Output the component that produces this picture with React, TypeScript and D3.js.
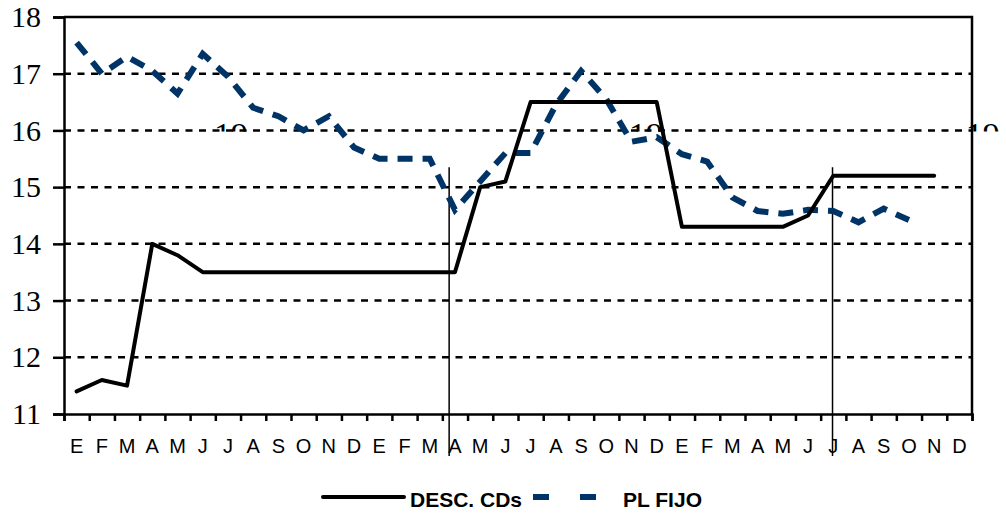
import React, { useEffect, useRef } from "react";
import { axisBottom, axisLeft, line, scaleLinear, select } from "d3";

const months = [
  "E", "F", "M", "A", "M", "J", "J", "A", "S", "O", "N", "D",
  "E", "F", "M", "A", "M", "J", "J", "A", "S", "O", "N", "D",
  "E", "F", "M", "A", "M", "J", "J", "A", "S", "O", "N", "D",
];

const descCDs = [
  11.4, 11.6, 11.5, 14.0, 13.8, 13.5, 13.5, 13.5, 13.5, 13.5, 13.5, 13.5,
  13.5, 13.5, 13.5, 13.5, 15.0, 15.1, 16.5, 16.5, 16.5, 16.5, 16.5, 16.5,
  14.3, 14.3, 14.3, 14.3, 14.3, 14.5, 15.2, 15.2, 15.2, 15.2, 15.2,
];

const plFijo = [
  17.55, 17.0, 17.3, 17.05, 16.65, 17.35, 16.95, 16.4, 16.25, 16.0, 16.25, 15.7,
  15.5, 15.5, 15.5, 14.6, 15.1, 15.6, 15.6, 16.45, 17.05, 16.55, 15.8, 15.88,
  15.58, 15.45, 14.82, 14.58, 14.53, 14.6, 14.58, 14.38, 14.62, 14.42,
];

const yTicks = [11, 12, 13, 14, 15, 16, 17, 18];
// vertical separators (month position) and the top value they start at
const separators = [15.27, 30.47];
const separatorTop = 15.35;
// partly hidden year labels (month position where text starts)
const yearLabels = ["19", "19", "19"];
const yearLabelPos = [5.95, 22.4, 35.75];

const width = 1006;
const height = 516;
const left = 64;
const right = 972;
const top = 17;
const bottom = 414;
const blue = "#003366";

export default function App() {
  const svgRef = useRef<SVGSVGElement | null>(null);

  useEffect(() => {
    const svg = select(svgRef.current);
    svg.selectAll("*").remove();

    const x = scaleLinear().domain([0, months.length]).range([left, right]);
    const y = scaleLinear().domain([11, 18]).range([bottom, top]);

    // year labels, only top part visible
    svg
      .append("clipPath")
      .attr("id", "yearclip")
      .append("rect")
      .attr("x", 0)
      .attr("y", 0)
      .attr("width", width)
      .attr("height", y(16) + 1);
    svg
      .append("g")
      .attr("clip-path", "url(#yearclip)")
      .selectAll("text")
      .data(yearLabels)
      .join("text")
      .attr("x", (_, i) => x(yearLabelPos[i]))
      .attr("y", 146)
      .attr("font-family", "'Liberation Serif', serif")
      .attr("font-size", 34)
      .attr("fill", "#000")
      .text((d) => d);

    // grid lines
    svg
      .append("g")
      .selectAll("line")
      .data(yTicks.filter((d) => d > 11 && d < 18))
      .join("line")
      .attr("x1", left)
      .attr("x2", right)
      .attr("y1", (d) => y(d))
      .attr("y2", (d) => y(d))
      .attr("stroke", "#000")
      .attr("stroke-width", 2.5)
      .attr("stroke-dasharray", "7,6.5");

    // frame top / right
    svg
      .append("path")
      .attr("d", `M${left},${top}H${right}V${bottom}`)
      .attr("fill", "none")
      .attr("stroke", "#000")
      .attr("stroke-width", 2.5);

    // y axis
    const yAxis = axisLeft(y)
      .tickValues(yTicks)
      .tickSize(11)
      .tickPadding(12)
      .tickFormat((d) => String(d));
    const gy = svg.append("g").attr("transform", `translate(${left},0)`).call(yAxis);
    gy.select(".domain").attr("stroke-width", 2.5);
    gy.selectAll(".tick line").attr("stroke-width", 2.5);
    gy.selectAll(".tick text")
      .attr("font-family", "'Liberation Serif', serif")
      .attr("font-size", 30)
      .attr("fill", "#000");

    // x axis
    const xAxis = axisBottom(x)
      .tickValues(months.map((_, i) => i).concat([months.length]))
      .tickSize(7)
      .tickFormat(() => "");
    const gx = svg.append("g").attr("transform", `translate(0,${bottom})`).call(xAxis);
    gx.select(".domain").attr("stroke-width", 2.5);
    gx.selectAll(".tick line").attr("stroke-width", 2.5);

    svg
      .append("g")
      .selectAll("text")
      .data(months)
      .join("text")
      .attr("x", (_, i) => x(i + 0.5))
      .attr("y", 453)
      .attr("text-anchor", "middle")
      .attr("font-family", "'Liberation Sans', Arial, sans-serif")
      .attr("font-size", 20)
      .attr("fill", "#000")
      .text((d) => d);

    // separators
    svg
      .append("g")
      .selectAll("line")
      .data(separators)
      .join("line")
      .attr("x1", (d) => x(d))
      .attr("x2", (d) => x(d))
      .attr("y1", y(separatorTop))
      .attr("y2", bottom + 42)
      .attr("stroke", "#000")
      .attr("stroke-width", 1.5);

    const lineGen = line<number>()
      .x((_, i) => x(i + 0.5))
      .y((d) => y(d));

    svg
      .append("path")
      .datum(plFijo)
      .attr("fill", "none")
      .attr("stroke", blue)
      .attr("stroke-width", 6)
      .attr("stroke-dasharray", "15,10")
      .attr("d", lineGen);

    svg
      .append("path")
      .datum(descCDs)
      .attr("fill", "none")
      .attr("stroke", "#000")
      .attr("stroke-width", 4)
      .attr("stroke-linejoin", "round")
      .attr("stroke-linecap", "round")
      .attr("d", lineGen);

    // legend
    const lg = svg.append("g");
    lg.append("line")
      .attr("x1", 323)
      .attr("x2", 404)
      .attr("y1", 497)
      .attr("y2", 497)
      .attr("stroke", "#000")
      .attr("stroke-width", 4)
      .attr("stroke-linecap", "round");
    lg.append("text")
      .attr("x", 410)
      .attr("y", 507)
      .attr("font-family", "'Liberation Sans', Arial, sans-serif")
      .attr("font-weight", "bold")
      .attr("font-size", 21)
      .text("DESC. CDs");
    lg.append("line")
      .attr("x1", 533)
      .attr("x2", 597)
      .attr("y1", 497)
      .attr("y2", 497)
      .attr("stroke", blue)
      .attr("stroke-width", 6)
      .attr("stroke-dasharray", "16,31");
    lg.append("text")
      .attr("x", 623)
      .attr("y", 507)
      .attr("font-family", "'Liberation Sans', Arial, sans-serif")
      .attr("font-weight", "bold")
      .attr("font-size", 21)
      .text("PL FIJO");
  }, []);

  return (
    <svg
      ref={svgRef}
      width={width}
      height={height}
      style={{ position: "absolute", left: 0, top: 0, background: "#fff" }}
    />
  );
}
